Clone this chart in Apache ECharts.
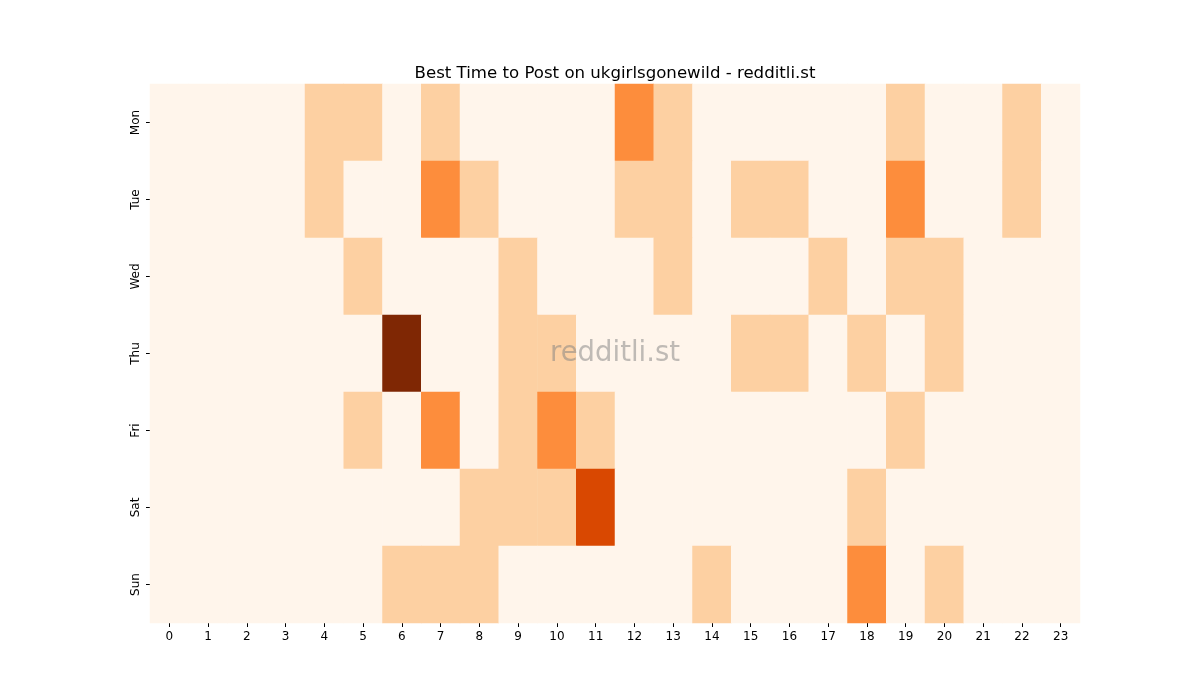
<!DOCTYPE html>
<html>
<head>
<meta charset="utf-8">
<script src="https://cdn.jsdelivr.net/npm/echarts@6/dist/echarts.min.js"></script>
<style>html,body{margin:0;padding:0;background:#fff}#chart{width:1200px;height:700px}</style>
</head>
<body>
<div id="chart"></div>
<script>
// hours and days
const hours = ['0','1','2','3','4','5','6','7','8','9','10','11','12','13','14','15','16','17','18','19','20','21','22','23'];
const days = ['Mon','Tue','Wed','Thu','Fri','Sat','Sun'];

// activity level per day, one entry per hour
const mon = [0,0,0,0,1,1,0,1,0,0,0,0,2,1,0,0,0,0,0,1,0,0,1,0];
const tue = [0,0,0,0,1,0,0,2,1,0,0,0,1,1,0,1,1,0,0,2,0,0,1,0];
const wed = [0,0,0,0,0,1,0,0,0,1,0,0,0,1,0,0,0,1,0,1,1,0,0,0];
const thu = [0,0,0,0,0,0,4,0,0,1,1,0,0,0,0,1,1,0,1,0,1,0,0,0];
const fri = [0,0,0,0,0,1,0,2,0,1,2,1,0,0,0,0,0,0,0,1,0,0,0,0];
const sat = [0,0,0,0,0,0,0,0,1,1,1,3,0,0,0,0,0,0,1,0,0,0,0,0];
const sun = [0,0,0,0,0,0,1,1,1,0,0,0,0,0,1,0,0,0,2,0,1,0,0,0];

const rows = [mon, tue, wed, thu, fri, sat, sun];
const data = [];
rows.forEach((r, d) => r.forEach((v, h) => data.push([h, d, v])));

let chart = echarts.init(document.getElementById('chart'));
chart.setOption({
  animation: false,
  title: {
    text: 'Best Time to Post on ukgirlsgonewild - redditli.st',
    left: 610, top: 60, textAlign: 'center',
    textStyle: {fontFamily: 'DejaVu Sans', fontSize: 16.6, fontWeight: 'normal', color: '#000'}
  },
  grid: {left: 150, top: 84, width: 930, height: 539},
  xAxis: {
    type: 'category', data: hours,
    axisLine: {show: false},
    axisTick: {show: true, alignWithLabel: true, length: 4, lineStyle: {color: '#000'}},
    axisLabel: {fontFamily: 'DejaVu Sans', fontSize: 12, color: '#000', margin: 8},
    splitLine: {show: false}
  },
  yAxis: {
    type: 'category', data: days, inverse: true,
    axisLine: {show: false},
    axisTick: {show: true, alignWithLabel: true, length: 4, lineStyle: {color: '#000'}},
    axisLabel: {fontFamily: 'DejaVu Sans', fontSize: 12, color: '#000', rotate: 90, margin: 8},
    splitLine: {show: false}
  },
  visualMap: {
    show: false, min: 0, max: 4, dimension: 2,
    inRange: {color: ['#fff5eb', '#fdd0a2', '#fd8d3c', '#d94801', '#7f2704']}
  },
  graphic: [{
    type: 'text', left: 550, top: 340, z: 100, zlevel: 1,
    style: {text: 'redditli.st', font: '27.5px DejaVu Sans', fill: 'rgba(128,128,128,0.5)'}
  }],
  series: [{
    type: 'heatmap', data: data,
    itemStyle: {borderWidth: 0},
    emphasis: {disabled: true}
  }]
});
</script>
</body>
</html>
